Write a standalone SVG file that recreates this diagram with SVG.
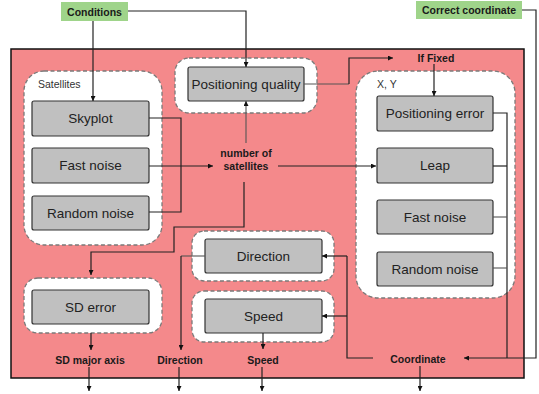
<svg xmlns="http://www.w3.org/2000/svg" width="539" height="394" viewBox="0 0 539 394">
<defs>
<marker id="ah" viewBox="0 0 6 6" refX="6" refY="3" markerWidth="5" markerHeight="5" markerUnits="userSpaceOnUse" orient="auto">
<path d="M0,0 L6,3 L0,6 z" fill="#111"/>
</marker>
<style>
.grp{fill:#fff;stroke:#7a7a7a;stroke-width:1.3;stroke-dasharray:4,2.5}
.box{fill:#c0c0c0;stroke:#333;stroke-width:1.2}
.bt{font-family:"Liberation Sans",Arial,sans-serif;font-size:13.5px;fill:#222;text-anchor:middle}
.lb{font-family:"Liberation Sans",Arial,sans-serif;font-size:10.5px;font-weight:bold;fill:#1a1a1a;text-anchor:middle}
.gl{font-family:"Liberation Sans",Arial,sans-serif;font-size:10.5px;fill:#333}
.ln{fill:none;stroke:#222;stroke-width:1.2}
.lg{fill:none;stroke:#555;stroke-width:1.1}
.arr{marker-end:url(#ah)}
.green{fill:#9fd48a}
</style>
</defs>
<rect width="539" height="394" fill="#fff"/>
<rect id="main" x="11" y="49" width="513" height="329" fill="#f4898b" stroke="#111" stroke-width="1.5"/>

<g id="satellites-group">
<rect class="grp" x="24" y="71" width="138" height="174" rx="20"/>
<text class="gl" x="38" y="88">Satellites</text>
</g>
<g id="skyplot"><rect class="box" x="32" y="101" width="117" height="35" rx="2"/><text class="bt" x="90.5" y="123">Skyplot</text></g>
<g id="fast-noise-l"><rect class="box" x="32" y="148" width="117" height="35" rx="2"/><text class="bt" x="90.5" y="170">Fast noise</text></g>
<g id="random-noise-l"><rect class="box" x="32" y="196" width="117" height="34" rx="2"/><text class="bt" x="90.5" y="218">Random noise</text></g>

<g id="pq-group"><rect class="grp" x="175" y="58" width="142" height="55" rx="14"/></g>
<g id="positioning-quality"><rect class="box" x="188" y="67" width="116" height="34" rx="2"/><text class="bt" x="246" y="89">Positioning quality</text></g>

<g id="xy-group">
<rect class="grp" x="356" y="71" width="159" height="227" rx="22"/>
<text class="gl" x="377" y="88">X, Y</text>
</g>
<g id="positioning-error"><rect class="box" x="377" y="96" width="116" height="35" rx="2"/><text class="bt" x="435" y="118">Positioning error</text></g>
<g id="leap"><rect class="box" x="377" y="148" width="116" height="35" rx="2"/><text class="bt" x="435" y="170">Leap</text></g>
<g id="fast-noise-r"><rect class="box" x="377" y="200" width="116" height="34" rx="2"/><text class="bt" x="435" y="222">Fast noise</text></g>
<g id="random-noise-r"><rect class="box" x="377" y="252" width="116" height="34" rx="2"/><text class="bt" x="435" y="274">Random noise</text></g>

<g id="sd-group"><rect class="grp" x="24" y="278" width="138" height="55" rx="14"/></g>
<g id="sd-error"><rect class="box" x="32" y="290" width="117" height="34" rx="2"/><text class="bt" x="90.5" y="312">SD error</text></g>

<g id="dir-group"><rect class="grp" x="192" y="231" width="142" height="50" rx="12"/></g>
<g id="direction"><rect class="box" x="205" y="239" width="117" height="34" rx="2"/><text class="bt" x="263.5" y="261">Direction</text></g>
<g id="speed-group"><rect class="grp" x="192" y="291" width="142" height="51" rx="12"/></g>
<g id="speed"><rect class="box" x="205" y="299" width="117" height="34" rx="2"/><text class="bt" x="263.5" y="321">Speed</text></g>

<g id="conditions"><rect class="green" x="61" y="2" width="67" height="19"/><text class="lb" x="94.5" y="15.5">Conditions</text></g>
<g id="correct-coordinate"><rect class="green" x="416" y="1" width="106" height="18"/><text class="lb" x="469" y="14">Correct coordinate</text></g>

<g id="labels">
<text class="lb" x="246" y="157">number of</text>
<text class="lb" x="246" y="170">satellites</text>
<text class="lb" x="436" y="62">If Fixed</text>
<text class="lb" x="90" y="364">SD major axis</text>
<text class="lb" x="180" y="364">Direction</text>
<text class="lb" x="263" y="364">Speed</text>
<text class="lb" x="418" y="363">Coordinate</text>
</g>

<g id="connectors">
<path class="ln arr" d="M93,21 V101"/>
<path class="ln arr" d="M128,11 H246 V67"/>
<path class="ln" d="M149,118 H181 V212 H149"/>
<path class="ln arr" d="M149,166 H213"/>
<path class="lg arr" d="M246,143 V101"/>
<path class="ln arr" d="M278,166 H376"/>
<path class="ln arr" d="M244,182 V227 H174 V252 H91 V275"/>
<path class="lg" d="M304,84 H349"/>
<path class="ln arr" d="M349,84 V58 H393"/>
<path class="ln arr" d="M434,64 V96"/>
<path class="ln" d="M493,113 H507 V358"/>
<path class="ln" d="M493,166 H507"/>
<path class="lg" d="M493,217 H507"/>
<path class="lg" d="M493,268 H507"/>
<path class="ln arr" d="M522,10 H536 V358 H464"/>
<path class="ln" d="M373,358 H347 V256"/>
<path class="ln arr" d="M347,256 H322"/>
<path class="ln arr" d="M347,316 H322"/>
<path class="lg" d="M205,256 H181"/>
<path class="ln arr" d="M181,256 V350"/>
<path class="ln arr" d="M263,333 V349"/>
<path class="ln arr" d="M91,333 V350"/>
<path class="ln arr" d="M89,367 V391"/>
<path class="ln arr" d="M179,367 V391"/>
<path class="ln arr" d="M262,367 V391"/>
<path class="ln arr" d="M420,366 V391"/>
</g>
</svg>
